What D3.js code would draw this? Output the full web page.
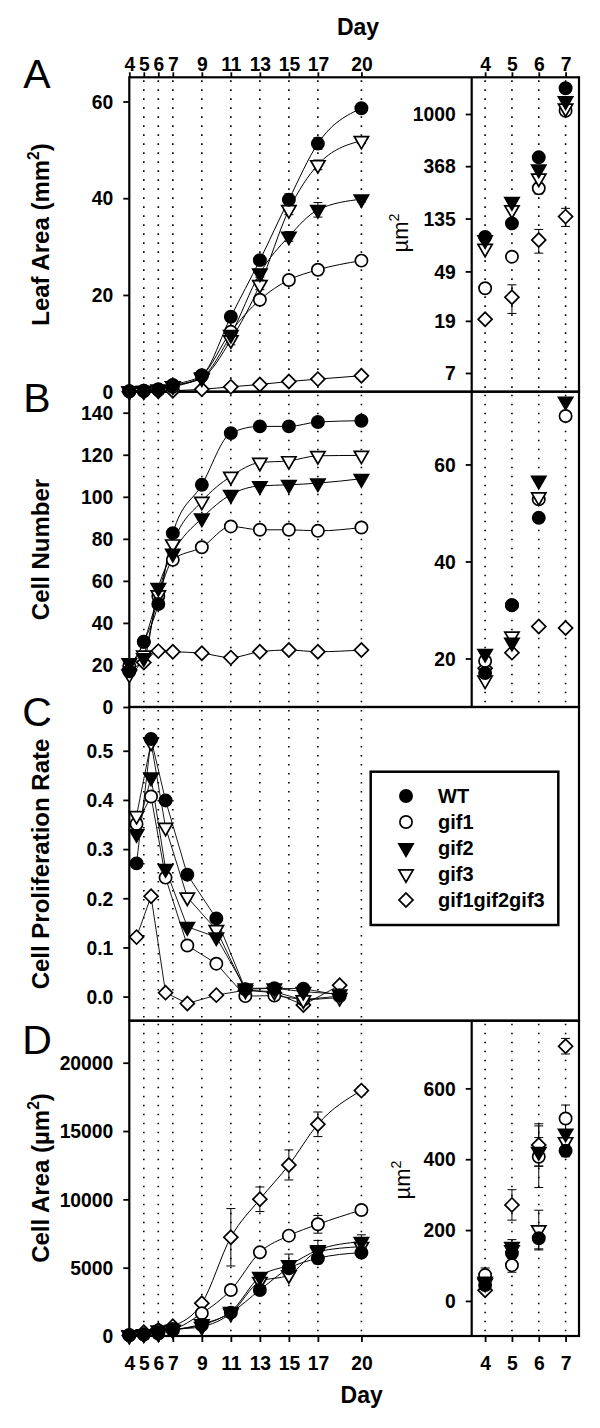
<!DOCTYPE html>
<html>
<head>
<meta charset="utf-8">
<script src="https://cdn.jsdelivr.net/npm/d3@7"></script>
<style>
  body { margin: 0; background: #fff; }
  svg { display: block; }
</style>
</head>
<body>
<div id="chart"></div>
<script>
// ---- data ----
const days = [4, 5, 6, 7, 9, 11, 13, 15, 17, 20];
const insetDays = [4, 5, 6, 7];
const rateDays = [4.5, 5.5, 6.5, 8, 10, 12, 14, 16, 18.5];
const gridDays = [5, 6, 7, 9, 11, 13, 15, 17, 20];

// A: leaf area (mm2)
const leafWT     = [0.1, 0.2, 0.5, 1.4, 3.4, 15.5, 27.2, 39.7, 51.3, 58.6];
const leafGif1   = [0.1, 0.15, 0.4, 1.0, 3.3, 12.4, 19.0, 23.1, 25.2, 27.1];
const leafGif2   = [0.1, 0.2, 0.45, 1.2, 3.0, 11.8, 24.5, 32.1, 37.6, 39.8];
const leafGif3   = [0.1, 0.2, 0.45, 1.2, 2.8, 10.7, 22.1, 37.6, 46.9, 51.9];
const leafTriple = [0, 0.05, 0.1, 0.2, 0.5, 1.0, 1.5, 2.1, 2.6, 3.3];
const leafErrWT   = [0, 0, 0, 0, 0.3, 0.8, 0.8, 1.2, 1.2, 0.8];
const leafErrGif2 = [0, 0, 0, 0, 0.2, 0.6, 0.8, 1.0, 1.5, 0.6];
const leafErrGif3 = [0, 0, 0, 0, 0.2, 1.0, 1.0, 1.0, 1.0, 0.6];

// A inset: early leaf area, log scale
const leafInWT     = [95, 123, 436, 1636];
const leafInGif1   = [35.5, 65, 241, 1065];
const leafInGif2   = [89.5, 186, 347, 1283];
const leafInGif3   = [76, 159, 292, 1115];
const leafInTriple = [19.6, 29.9, 89.5, 140];
const leafInErrTriple = [0, 8, 20, 24];
const leafInErrGif1   = [0, 0, 25, 0];
const leafInTicks = [7, 19, 49, 135, 368, 1000];

// B: cell number
const cellWT     = [17, 31, 49, 82.7, 105.7, 130.3, 133.5, 133.5, 135.6, 136.2];
const cellGif1   = [19.5, 31, 52.8, 70, 76, 85.9, 84.3, 84.3, 83.8, 85.4];
const cellGif2   = [21, 23.3, 56.7, 73, 89.8, 101, 105.2, 105.7, 106.5, 108.6];
const cellGif3   = [15.5, 24.6, 53.3, 77.5, 97.8, 109.7, 116.3, 117.1, 119.5, 119.7];
const cellTriple = [18, 21.2, 26.6, 26.3, 25.6, 23.5, 26.3, 27.1, 26.3, 27.1];
const cellTicks = [0, 20, 40, 60, 80, 100, 120, 140];
const cellInTicks = [20, 40, 60];

// C: cell proliferation rate
const rateWT     = [0.271, 0.524, 0.399, 0.248, 0.159, 0.015, 0.017, 0.016, 0.003];
const rateGif1   = [0.351, 0.407, 0.242, 0.104, 0.067, 0.001, 0.002, -0.006, 0.001];
const rateGif2   = [0.331, 0.446, 0.260, 0.142, 0.121, 0.017, 0.017, 0.010, 0.005];
const rateGif3   = [0.368, 0.517, 0.344, 0.202, 0.136, 0.013, 0.010, -0.007, -0.002];
const rateTriple = [0.121, 0.204, 0.008, -0.014, 0.003, 0.013, 0.008, -0.017, 0.023];
const rateTicks = [0, 0.1, 0.2, 0.3, 0.4, 0.5];

// D: cell area (um2)
const areaWT     = [45, 135, 177, 424, 805, 1708, 3367, 4954, 5685, 6100];
const areaGif1   = [73, 101, 407, 515, 1660, 3367, 6124, 7344, 8174, 9223];
const areaGif2   = [55, 153, 421, 473, 880, 1780, 4343, 5197, 6295, 6905];
const areaGif3   = [50, 144, 200, 449, 683, 1660, 3977, 4465, 6173, 6539];
const areaTriple = [30, 271, 440, 719, 2394, 7225, 10006, 12517, 15494, 17960];
const areaErrWT     = [10, 15, 30, 17, 0, 0, 0, 400, 400, 300];
const areaErrGif1   = [20, 20, 87, 38, 0, 0, 0, 300, 650, 0];
const areaErrGif2   = [10, 20, 40, 30, 0, 0, 300, 800, 700, 500];
const areaErrGif3   = [10, 15, 56, 30, 0, 0, 0, 0, 0, 0];
const areaErrTriple = [0, 43, 60, 22, 0, 2100, 900, 1100, 900, 300];
const areaTicks = [0, 5000, 10000, 15000, 20000];
const areaInTicks = [0, 200, 400, 600];

const legendNames = ["WT", "gif1", "gif2", "gif3", "gif1gif2gif3"];

// ---- layout ----
const FONT = "'Liberation Sans', Arial, Helvetica, sans-serif";
const X0 = 129.3, XI = 471.7, X1 = 579;
const pA = [77.3, 391.7], pB = [391.7, 707], pC = [707, 1020.7], pD = [1020.7, 1336];

const x = d3.scaleLinear().domain([4, 35]).range([X0, X1]);
const xi = d3.scaleLinear().domain([3.5, 7.5]).range([XI, X1]);

const yA = d3.scaleLinear().domain([0, 65]).range([pA[1], pA[0]]);
const yAi = d3.scaleLog().domain([4.89, 2020]).range([pA[1], pA[0]]);
const yB = d3.scaleLinear().domain([0, 150]).range([pB[1], pB[0]]);
const yBi = d3.scaleLinear().domain([10, 75]).range([pB[1], pB[0]]);
const yC = d3.scaleLinear().domain([-0.049, 0.589]).range([pC[1], pC[0]]);
const yD = d3.scaleLinear().domain([0, 23075]).range([pD[1], pD[0]]);
const yDi = d3.scaleLinear().domain([-99, 791]).range([pD[1], pD[0]]);

const styles = {
  "WT":           { shape: "circle", fill: "#000" },
  "gif1":         { shape: "circle", fill: "#fff" },
  "gif2":         { shape: "tri",    fill: "#000" },
  "gif3":         { shape: "tri",    fill: "#fff" },
  "gif1gif2gif3": { shape: "diamond", fill: "#fff" }
};
const drawOrder = ["gif1gif2gif3", "gif1", "gif3", "gif2", "WT"];

const symPath = {
  circle: d3.symbol(d3.symbolCircle, 118)(),
  tri: d3.symbol(d3.symbolTriangle, 88)(),
  diamond: d3.symbol(d3.symbolSquare, 98)()
};
const symRot = { circle: 0, tri: 180, diamond: 45 };

const svg = d3.select("#chart").append("svg")
  .attr("width", 600).attr("height", 1428)
  .attr("viewBox", "0 0 600 1428");
svg.append("rect").attr("width", 600).attr("height", 1428).attr("fill", "#fff");

const defs = svg.append("defs");
function clip(id, x0, x1, y0, y1) {
  defs.append("clipPath").attr("id", id)
    .append("rect").attr("x", x0).attr("y", y0).attr("width", x1 - x0).attr("height", y1 - y0);
  return `url(#${id})`;
}

function grid(xs, scale, top, bottom) {
  svg.append("g").selectAll("line").data(xs).join("line")
    .attr("x1", d => scale(d)).attr("x2", d => scale(d))
    .attr("y1", top + 3).attr("y2", bottom)
    .attr("stroke", "#000").attr("stroke-width", 1.6)
    .attr("stroke-dasharray", "1.6,7.4");
}

// tick labels in the figure are a slightly condensed bold face
function styleAxis(g) {
  g.select(".domain").remove();
  g.selectAll(".tick line").attr("stroke", "#000").attr("stroke-width", 1.8);
  g.selectAll(".tick text").attr("fill", "#000")
    .style("font-family", FONT).style("font-weight", "bold")
    .style("font-size", "21px")
    .attr("transform", "scale(0.92,1)");
}

function yAxis(scale, ticks, xpos, fmt) {
  const g = svg.append("g").attr("transform", `translate(${xpos},0)`)
    .call(d3.axisLeft(scale).tickValues(ticks).tickSize(6).tickPadding(11.4).tickFormat(fmt || (d => d)));
  styleAxis(g);
}

function drawSeries(table, xs, xScale, yScale, opts) {
  const g = svg.append("g");
  if (opts.clip) g.attr("clip-path", opts.clip);
  if (opts.curve) {
    const line = d3.line()
      .x(d => xScale(d.day)).y(d => yScale(d.v))
      .curve(opts.curve);
    drawOrder.forEach(name => {
      const pts = xs.map((day, i) => ({ day, v: table[name][i] }));
      g.append("path").datum(pts).attr("d", line)
        .attr("fill", "none").attr("stroke", "#000")
        .attr("stroke-width", opts.lw || 1);
    });
  }
  if (opts.err) {
    drawOrder.forEach(name => {
      const errs = opts.err[name];
      if (!errs) return;
      xs.forEach((day, i) => {
        const e = errs[i], v = table[name][i];
        if (!e) return;
        const cx = xScale(day);
        const ylo = yScale(v - e);
        const yhi = yScale(v + e);
        g.append("line").attr("x1", cx).attr("x2", cx).attr("y1", ylo).attr("y2", yhi)
          .attr("stroke", "#000").attr("stroke-width", 1);
        [ylo, yhi].forEach(yy => g.append("line")
          .attr("x1", cx - 4.5).attr("x2", cx + 4.5).attr("y1", yy).attr("y2", yy)
          .attr("stroke", "#000").attr("stroke-width", 1));
      });
    });
  }
  drawOrder.forEach(name => {
    const st = styles[name];
    const pts = xs.map((day, i) => ({ day, v: table[name][i] }));
    g.append("g").selectAll("path").data(pts).join("path")
      .attr("d", symPath[st.shape])
      .attr("transform", d => `translate(${xScale(d.day)},${yScale(d.v)}) rotate(${symRot[st.shape]})`)
      .attr("fill", st.fill).attr("stroke", "#000").attr("stroke-width", 1.7);
  });
}

// tables
const leafTable = { "WT": leafWT, "gif1": leafGif1, "gif2": leafGif2, "gif3": leafGif3, "gif1gif2gif3": leafTriple };
const leafInTable = { "WT": leafInWT, "gif1": leafInGif1, "gif2": leafInGif2, "gif3": leafInGif3, "gif1gif2gif3": leafInTriple };
const cellTable = { "WT": cellWT, "gif1": cellGif1, "gif2": cellGif2, "gif3": cellGif3, "gif1gif2gif3": cellTriple };
const rateTable = { "WT": rateWT, "gif1": rateGif1, "gif2": rateGif2, "gif3": rateGif3, "gif1gif2gif3": rateTriple };
const areaTable = { "WT": areaWT, "gif1": areaGif1, "gif2": areaGif2, "gif3": areaGif3, "gif1gif2gif3": areaTriple };
const areaErr = { "WT": areaErrWT, "gif1": areaErrGif1, "gif2": areaErrGif2, "gif3": areaErrGif3, "gif1gif2gif3": areaErrTriple };
const sliceIn = t => Object.fromEntries(Object.entries(t).map(([k, v]) => [k, v.slice(0, 4)]));

// grid lines
[pA, pB, pC, pD].forEach(p => grid(gridDays, x, p[0], p[1]));
[pA, pB, pD].forEach(p => grid(insetDays, xi, p[0], p[1]));

// panel frames
[pA, pB, pC, pD].forEach(p => {
  svg.append("rect").attr("x", X0).attr("y", p[0]).attr("width", X1 - X0).attr("height", p[1] - p[0])
    .attr("fill", "none").attr("stroke", "#000").attr("stroke-width", 2.2);
});
[pA, pB, pD].forEach(p => {
  svg.append("line").attr("x1", XI).attr("x2", XI).attr("y1", p[0]).attr("y2", p[1])
    .attr("stroke", "#000").attr("stroke-width", 2.2);
});

// axes
yAxis(yA, [0, 20, 40, 60], X0);
yAxis(yAi, leafInTicks, XI);
yAxis(yB, cellTicks, X0);
yAxis(yBi, cellInTicks, XI);
yAxis(yC, rateTicks, X0, d3.format(".1f"));
yAxis(yD, areaTicks, X0);
yAxis(yDi, areaInTicks, XI);

const dayFmt = d3.format("d");
const topAx = svg.append("g").attr("transform", `translate(0,${pA[0]})`)
  .call(d3.axisTop(x).tickValues(days).tickSize(5).tickPadding(1.6).tickFormat(dayFmt));
styleAxis(topAx);
const topAxI = svg.append("g").attr("transform", `translate(0,${pA[0]})`)
  .call(d3.axisTop(xi).tickValues(insetDays).tickSize(5).tickPadding(1.6).tickFormat(dayFmt));
styleAxis(topAxI);
const botAx = svg.append("g").attr("transform", `translate(0,${pD[1]})`)
  .call(d3.axisBottom(x).tickValues(days).tickSize(6).tickPadding(13.5).tickFormat(dayFmt));
styleAxis(botAx);
const botAxI = svg.append("g").attr("transform", `translate(0,${pD[1]})`)
  .call(d3.axisBottom(xi).tickValues(insetDays).tickSize(6).tickPadding(13.5).tickFormat(dayFmt));
styleAxis(botAxI);

// data
drawSeries(leafTable, days, x, yA, {
  curve: d3.curveMonotoneX,
  err: { "WT": leafErrWT, "gif2": leafErrGif2, "gif3": leafErrGif3 }
});
drawSeries(leafInTable, insetDays, xi, yAi, {
  clip: clip("cA", XI, X1, pA[0], pA[1]),
  err: { "gif1gif2gif3": leafInErrTriple, "gif1": leafInErrGif1 }
});
drawSeries(cellTable, days, x, yB, { curve: d3.curveMonotoneX });
drawSeries(sliceIn(cellTable), insetDays, xi, yBi, { clip: clip("cB", XI, X1, pB[0], pB[1]) });
drawSeries(rateTable, rateDays, x, yC, { curve: d3.curveLinear, lw: 0.9 });
drawSeries(areaTable, days, x, yD, { curve: d3.curveMonotoneX, err: areaErr });
drawSeries(sliceIn(areaTable), insetDays, xi, yDi, {
  clip: clip("cD", XI, X1, pD[0], pD[1]),
  err: sliceIn(areaErr)
});

// legend
const lg = svg.append("g");
lg.append("rect").attr("x", 370.7).attr("y", 771.7).attr("width", 187.6).attr("height", 153.3)
  .attr("fill", "#fff").attr("stroke", "#000").attr("stroke-width", 2.5);
legendNames.forEach((name, i) => {
  const cy = 796 + i * 26;
  const st = styles[name];
  lg.append("path").attr("d", symPath[st.shape])
    .attr("transform", `translate(406,${cy}) rotate(${symRot[st.shape]})`)
    .attr("fill", st.fill).attr("stroke", "#000").attr("stroke-width", 1.7);
  lg.append("text").attr("x", 438).attr("y", cy + 7)
    .style("font-family", FONT).style("font-weight", "bold").style("font-size", "20px")
    .text(name);
});

// titles and labels
function txt(xp, yp, s, size, weight, anchor) {
  return svg.append("text").attr("x", xp).attr("y", yp)
    .attr("text-anchor", anchor || "middle")
    .style("font-family", FONT).style("font-weight", weight || "bold")
    .style("font-size", size + "px").text(s);
}
txt(358, 35, "Day", 23);
txt(361.7, 1403, "Day", 23);

[["A", 87.5], ["B", 412], ["C", 726], ["D", 1054]].forEach(([s, yy]) => txt(37, yy, s, 41, "normal"));

function yTitle(cx, cy, parts, size, weight) {
  const t = svg.append("text")
    .attr("transform", `translate(${cx},${cy}) rotate(-90)`)
    .attr("text-anchor", "middle").attr("dy", "0.36em")
    .style("font-family", FONT).style("font-weight", weight || "bold")
    .style("font-size", size + "px");
  parts.forEach(p => {
    const ts = t.append("tspan").text(p.t);
    if (p.sup) ts.attr("dy", -size * 0.4).style("font-size", (size * 0.65) + "px");
    if (p.after) ts.attr("dy", size * 0.4);
  });
}
yTitle(40, 234.5, [{ t: "Leaf Area (mm" }, { t: "2", sup: true }, { t: ")", after: true }], 24);
yTitle(40, 549.5, [{ t: "Cell Number" }], 24);
yTitle(40, 864, [{ t: "Cell Proliferation Rate" }], 24);
yTitle(40, 1178, [{ t: "Cell Area (\u00b5m" }, { t: "2", sup: true }, { t: ")", after: true }], 24);
yTitle(400, 233, [{ t: "\u00b5m" }, { t: "2", sup: true }], 22, "normal");
yTitle(402, 1180, [{ t: "\u00b5m" }, { t: "2", sup: true }], 22, "normal");
</script>
</body>
</html>
